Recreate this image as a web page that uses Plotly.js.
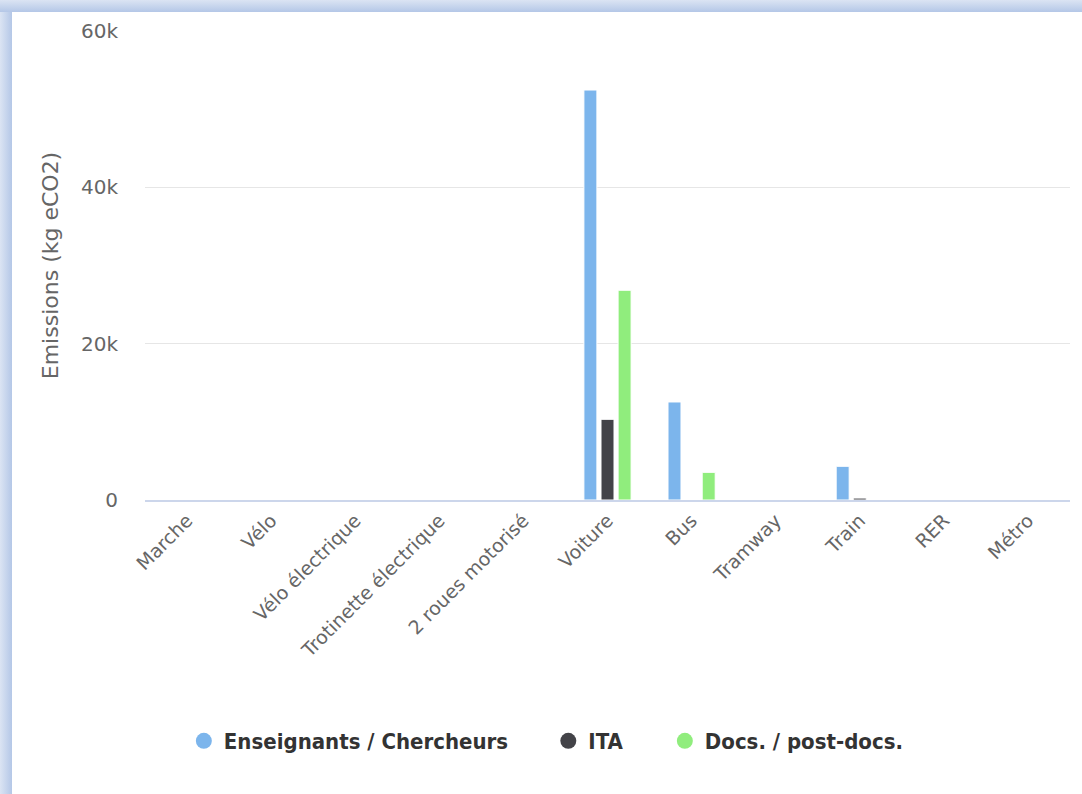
<!DOCTYPE html>
<html>
<head>
<meta charset="utf-8">
<script src="https://cdn.plot.ly/plotly-3.0.1.min.js"></script>
<style>
  html, body { margin: 0; padding: 0; width: 1082px; height: 794px; overflow: hidden; background: #ffffff; }
  #frame { position: absolute; left: 0; top: 0; width: 1082px; height: 794px;
    background: linear-gradient(to bottom, #dbe4f3 0px, #b4c7e7 12px, transparent 12px),
                linear-gradient(to right, #dbe4f3 0px, #b4c7e7 12px, transparent 12px); }
  #chart { position: absolute; left: 12px; top: 12px; width: 1070px; height: 782px; background: #fff; }
</style>
</head>
<body>
<div id="frame"></div>
<div id="chart"></div>
<script>
const categories = ["Marche", "Vélo", "Vélo électrique", "Trotinette électrique", "2 roues motorisé", "Voiture", "Bus", "Tramway", "Train", "RER", "Métro"];
const seriesNames = ["Enseignants / Chercheurs", "ITA", "Docs. / post-docs."];
const enseignants = [0, 0, 0, 0, 0, 52450, 12540, 0, 4310, 0, 0];
const ita = [0, 0, 0, 0, 0, 10320, 0, 0, 250, 0, 0];
const docs = [0, 0, 0, 0, 0, 26830, 3540, 0, 0, 0, 0];
const colors = ["#7cb5ec", "#434348", "#90ed7d"];
const yTickVals = [0, 20000, 40000, 60000];
const yTickText = ["0", "20k", "40k", "60k"];

const values = [enseignants, ita, docs];
const font = "'DejaVu Sans', sans-serif";
const legendIds = ["legend", "legend2", "legend3"];
const legendX = [0.042, 0.436, 0.562];

const traces = [];
values.forEach((v, i) => {
  traces.push({
    type: "bar", x: categories, y: v, name: seriesNames[i],
    marker: { color: colors[i], line: { color: "#ffffff", width: 1 } },
    showlegend: false, hoverinfo: "x+y"
  });
});
values.forEach((v, i) => {
  traces.push({
    type: "scatter", mode: "markers", x: [null], y: [null], name: seriesNames[i],
    marker: { color: colors[i], size: 20, symbol: "circle" },
    showlegend: true, hoverinfo: "skip", legend: legendIds[i]
  });
});

const layout = {
  width: 1070, height: 782,
  margin: { l: 133, r: 12, t: 19, b: 294 },
  paper_bgcolor: "#ffffff", plot_bgcolor: "#ffffff",
  barmode: "group", bargap: 0.39, bargroupgap: 0.24,
  showlegend: true,
  xaxis: {
    type: "category", tickangle: -45, showgrid: false, zeroline: false,
    showline: true, linecolor: "#ccd6eb", linewidth: 2,
    ticks: "", tickfont: { family: font, size: 19, color: "#666666" },
    fixedrange: true
  },
  yaxis: {
    range: [0, 60000], tickvals: yTickVals, ticktext: yTickText,
    showgrid: true, gridcolor: "#e6e6e6", gridwidth: 1, zeroline: false,
    showline: false, ticks: "", ticklabelstandoff: 26,
    tickfont: { family: font, size: 20, color: "#666666" },
    title: { text: "Emissions (kg eCO2)", font: { family: font, size: 22, color: "#666666" }, standoff: 16 },
    fixedrange: true
  }
};
legendIds.forEach((id, i) => {
  layout[id] = {
    orientation: "h", x: legendX[i], xanchor: "left", y: -0.514, yanchor: "middle",
    font: { family: "'DejaVu Sans Condensed', 'DejaVu Sans', sans-serif", size: 22, color: "#333333", weight: "bold", stretch: "condensed" },
    itemwidth: 30, bgcolor: "rgba(0,0,0,0)"
  };
});

Plotly.newPlot("chart", traces, layout, { displayModeBar: false });
</script>
</body>
</html>
